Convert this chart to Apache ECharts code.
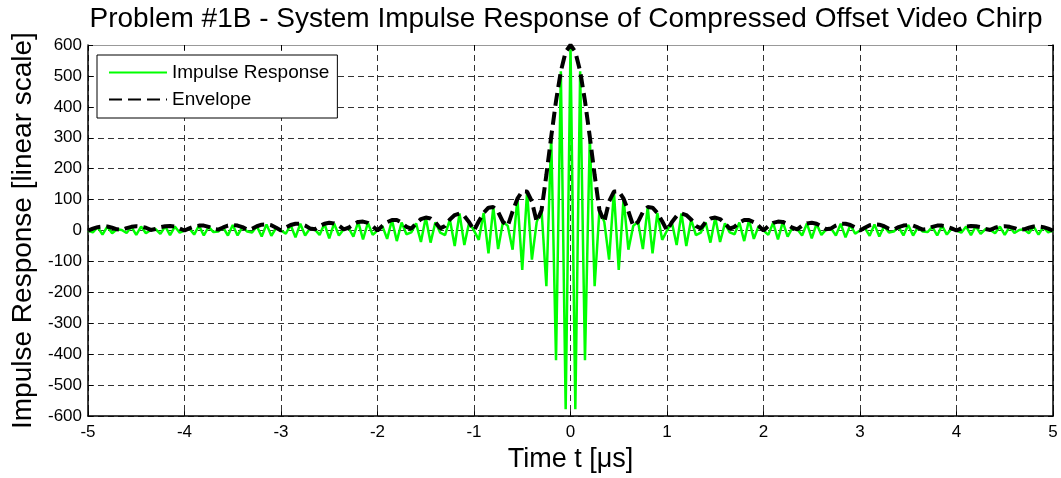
<!DOCTYPE html>
<html>
<head>
<meta charset="utf-8">
<script src="https://cdn.jsdelivr.net/npm/echarts@6/dist/echarts.min.js"></script>
<style>
  html, body { margin: 0; padding: 0; background: #fff; }
  #chart { width: 1061px; height: 478px; }
</style>
</head>
<body>
<div id="chart"></div>
<script>
// sample grid: -5 .. 5 us, step 0.05 us
const tStart = -5
const tStep = 0.05

// impulse response samples (linear scale)
const impulse = [
  0, -6, 11, -13, 13, -9, 4, 2, -8, 12, -14, 13, -9, 2, 5, -11, 14, -15, 13, -7,
  0, 7, -13, 16, -16, 12, -5, -3, 10, -16, 18, -16, 11, -3, -6, 14, -19, 20, -17, 9,
  0, -10, 18, -22, 22, -16, 7, 4, -14, 22, -25, 23, -16, 4, 9, -20, 28, -29, 25, -14,
  0, 15, -27, 34, -34, 26, -12, -6, 23, -37, 42, -39, 27, -7, -15, 36, -50, 55, -47, 27,
  0, -30, 57, -74, 76, -60, 28, 15, -62, 103, -127, 126, -94, 28, 66, -180, 303, -419, 515, -578,
  600,
  -578, 515, -419, 303, -180, 66, 28, -94, 126, -127, 103, -62, 15, 28, -60, 76, -74, 57, -30, 0,
  27, -47, 55, -50, 36, -15, -7, 27, -39, 42, -37, 23, -6, -12, 26, -34, 34, -27, 15, 0,
  -14, 25, -29, 28, -20, 9, 4, -16, 23, -25, 22, -14, 4, 7, -16, 22, -22, 18, -10, 0,
  9, -17, 20, -19, 14, -6, -3, 11, -16, 18, -16, 10, -3, -5, 12, -16, 16, -13, 7, 0,
  -7, 13, -15, 14, -11, 5, 2, -9, 13, -14, 12, -8, 2, 4, -9, 13, -13, 11, -6, 0
]

// envelope samples
const envelope = [
  0, 6, 11, 13, 13, 9, 4, 2, 8, 12, 14, 13, 9, 2, 5, 11, 14, 15, 13, 7,
  0, 7, 13, 16, 16, 12, 5, 3, 10, 16, 18, 16, 11, 3, 6, 14, 19, 20, 17, 9,
  0, 10, 18, 22, 22, 16, 7, 4, 14, 22, 25, 23, 16, 4, 9, 20, 28, 29, 25, 14,
  0, 15, 27, 34, 34, 26, 12, 6, 23, 37, 42, 39, 27, 7, 15, 36, 50, 55, 47, 27,
  0, 30, 57, 74, 76, 60, 28, 15, 62, 103, 127, 126, 94, 28, 66, 180, 303, 419, 515, 578,
  600,
  578, 515, 419, 303, 180, 66, 28, 94, 126, 127, 103, 62, 15, 28, 60, 76, 74, 57, 30, 0,
  27, 47, 55, 50, 36, 15, 7, 27, 39, 42, 37, 23, 6, 12, 26, 34, 34, 27, 15, 0,
  14, 25, 29, 28, 20, 9, 4, 16, 23, 25, 22, 14, 4, 7, 16, 22, 22, 18, 10, 0,
  9, 17, 20, 19, 14, 6, 3, 11, 16, 18, 16, 10, 3, 5, 12, 16, 16, 13, 7, 0,
  7, 13, 15, 14, 11, 5, 2, 9, 13, 14, 12, 8, 2, 4, 9, 13, 13, 11, 6, 0
]

const xTicks = [-5, 5, 1]
const yTicks = [-600, 600, 100]

const font = 'Arial, "Liberation Sans", Helvetica, sans-serif'

function pairs(values) {
  return values.map((v, i) => [+(tStart + i * tStep).toFixed(2), v])
}

const chart = echarts.init(document.getElementById('chart'))

const gridLine = {
  show: true,
  lineStyle: { color: '#333', type: [6, 4], width: 1 }
}

chart.setOption({
  animation: false,
  backgroundColor: '#fff',
  title: {
    text: 'Problem #1B - System Impulse Response of Compressed Offset Video Chirp',
    left: 561,
    textAlign: 'center',
    top: 0,
    textStyle: { fontFamily: font, fontSize: 28, fontWeight: 'normal', color: '#000' }
  },
  legend: {
    orient: 'vertical',
    left: 97,
    top: 55,
    padding: [8, 8, 9, 11],
    itemGap: 8,
    itemWidth: 58,
    itemHeight: 14,
    borderColor: '#000',
    borderWidth: 1,
    backgroundColor: '#fff',
    itemStyle: { opacity: 0 },
    textStyle: { fontFamily: font, fontSize: 19, lineHeight: 19, color: '#000' },
    data: ['Impulse Response', 'Envelope']
  },
  grid: { left: 88, right: 8, top: 45, bottom: 61, containLabel: false },
  xAxis: [{
    type: 'value',
    min: xTicks[0],
    max: xTicks[1],
    interval: xTicks[2],
    name: 'Time t [\u03bcs]',
    nameLocation: 'middle',
    nameGap: 28,
    nameTextStyle: { fontFamily: font, fontSize: 27, color: '#000' },
    axisLine: { show: true, onZero: false, lineStyle: { color: '#000', width: 1.5 } },
    axisTick: { show: true, inside: true, length: 5, lineStyle: { color: '#000' } },
    axisLabel: { fontFamily: font, fontSize: 17, color: '#000', margin: 8 },
    splitLine: gridLine
  }, {
    type: 'value',
    position: 'top',
    min: xTicks[0],
    max: xTicks[1],
    interval: xTicks[2],
    axisLine: { show: true, onZero: false, lineStyle: { color: '#999', width: 1 } },
    axisTick: { show: true, inside: true, length: 5, lineStyle: { color: '#000' } },
    axisLabel: { show: false },
    splitLine: { show: false }
  }],
  yAxis: [{
    type: 'value',
    min: yTicks[0],
    max: yTicks[1],
    interval: yTicks[2],
    name: 'Impulse Response [linear scale]',
    nameLocation: 'middle',
    nameGap: 50,
    nameTextStyle: { fontFamily: font, fontSize: 28, color: '#000' },
    axisLine: { show: true, onZero: false, lineStyle: { color: '#000', width: 1.5 } },
    axisTick: { show: true, inside: true, length: 5, lineStyle: { color: '#000' } },
    axisLabel: { fontFamily: font, fontSize: 17, color: '#000', margin: 6 },
    splitLine: gridLine
  }, {
    type: 'value',
    position: 'right',
    min: yTicks[0],
    max: yTicks[1],
    interval: yTicks[2],
    axisLine: { show: true, onZero: false, lineStyle: { color: '#000', width: 1.5 } },
    axisTick: { show: true, inside: true, length: 5, lineStyle: { color: '#000' } },
    axisLabel: { show: false },
    splitLine: { show: false }
  }],
  series: [{
    name: 'Impulse Response',
    type: 'line',
    data: pairs(impulse),
    symbol: 'none',
    lineStyle: { color: '#00ff00', width: 2.5 },
    itemStyle: { color: '#00ff00' },
    z: 2
  }, {
    name: 'Envelope',
    type: 'line',
    data: pairs(envelope),
    symbol: 'none',
    lineStyle: { color: '#000', width: 4, type: [13, 6] },
    itemStyle: { color: '#000' },
    z: 3
  }]
})
</script>
</body>
</html>
